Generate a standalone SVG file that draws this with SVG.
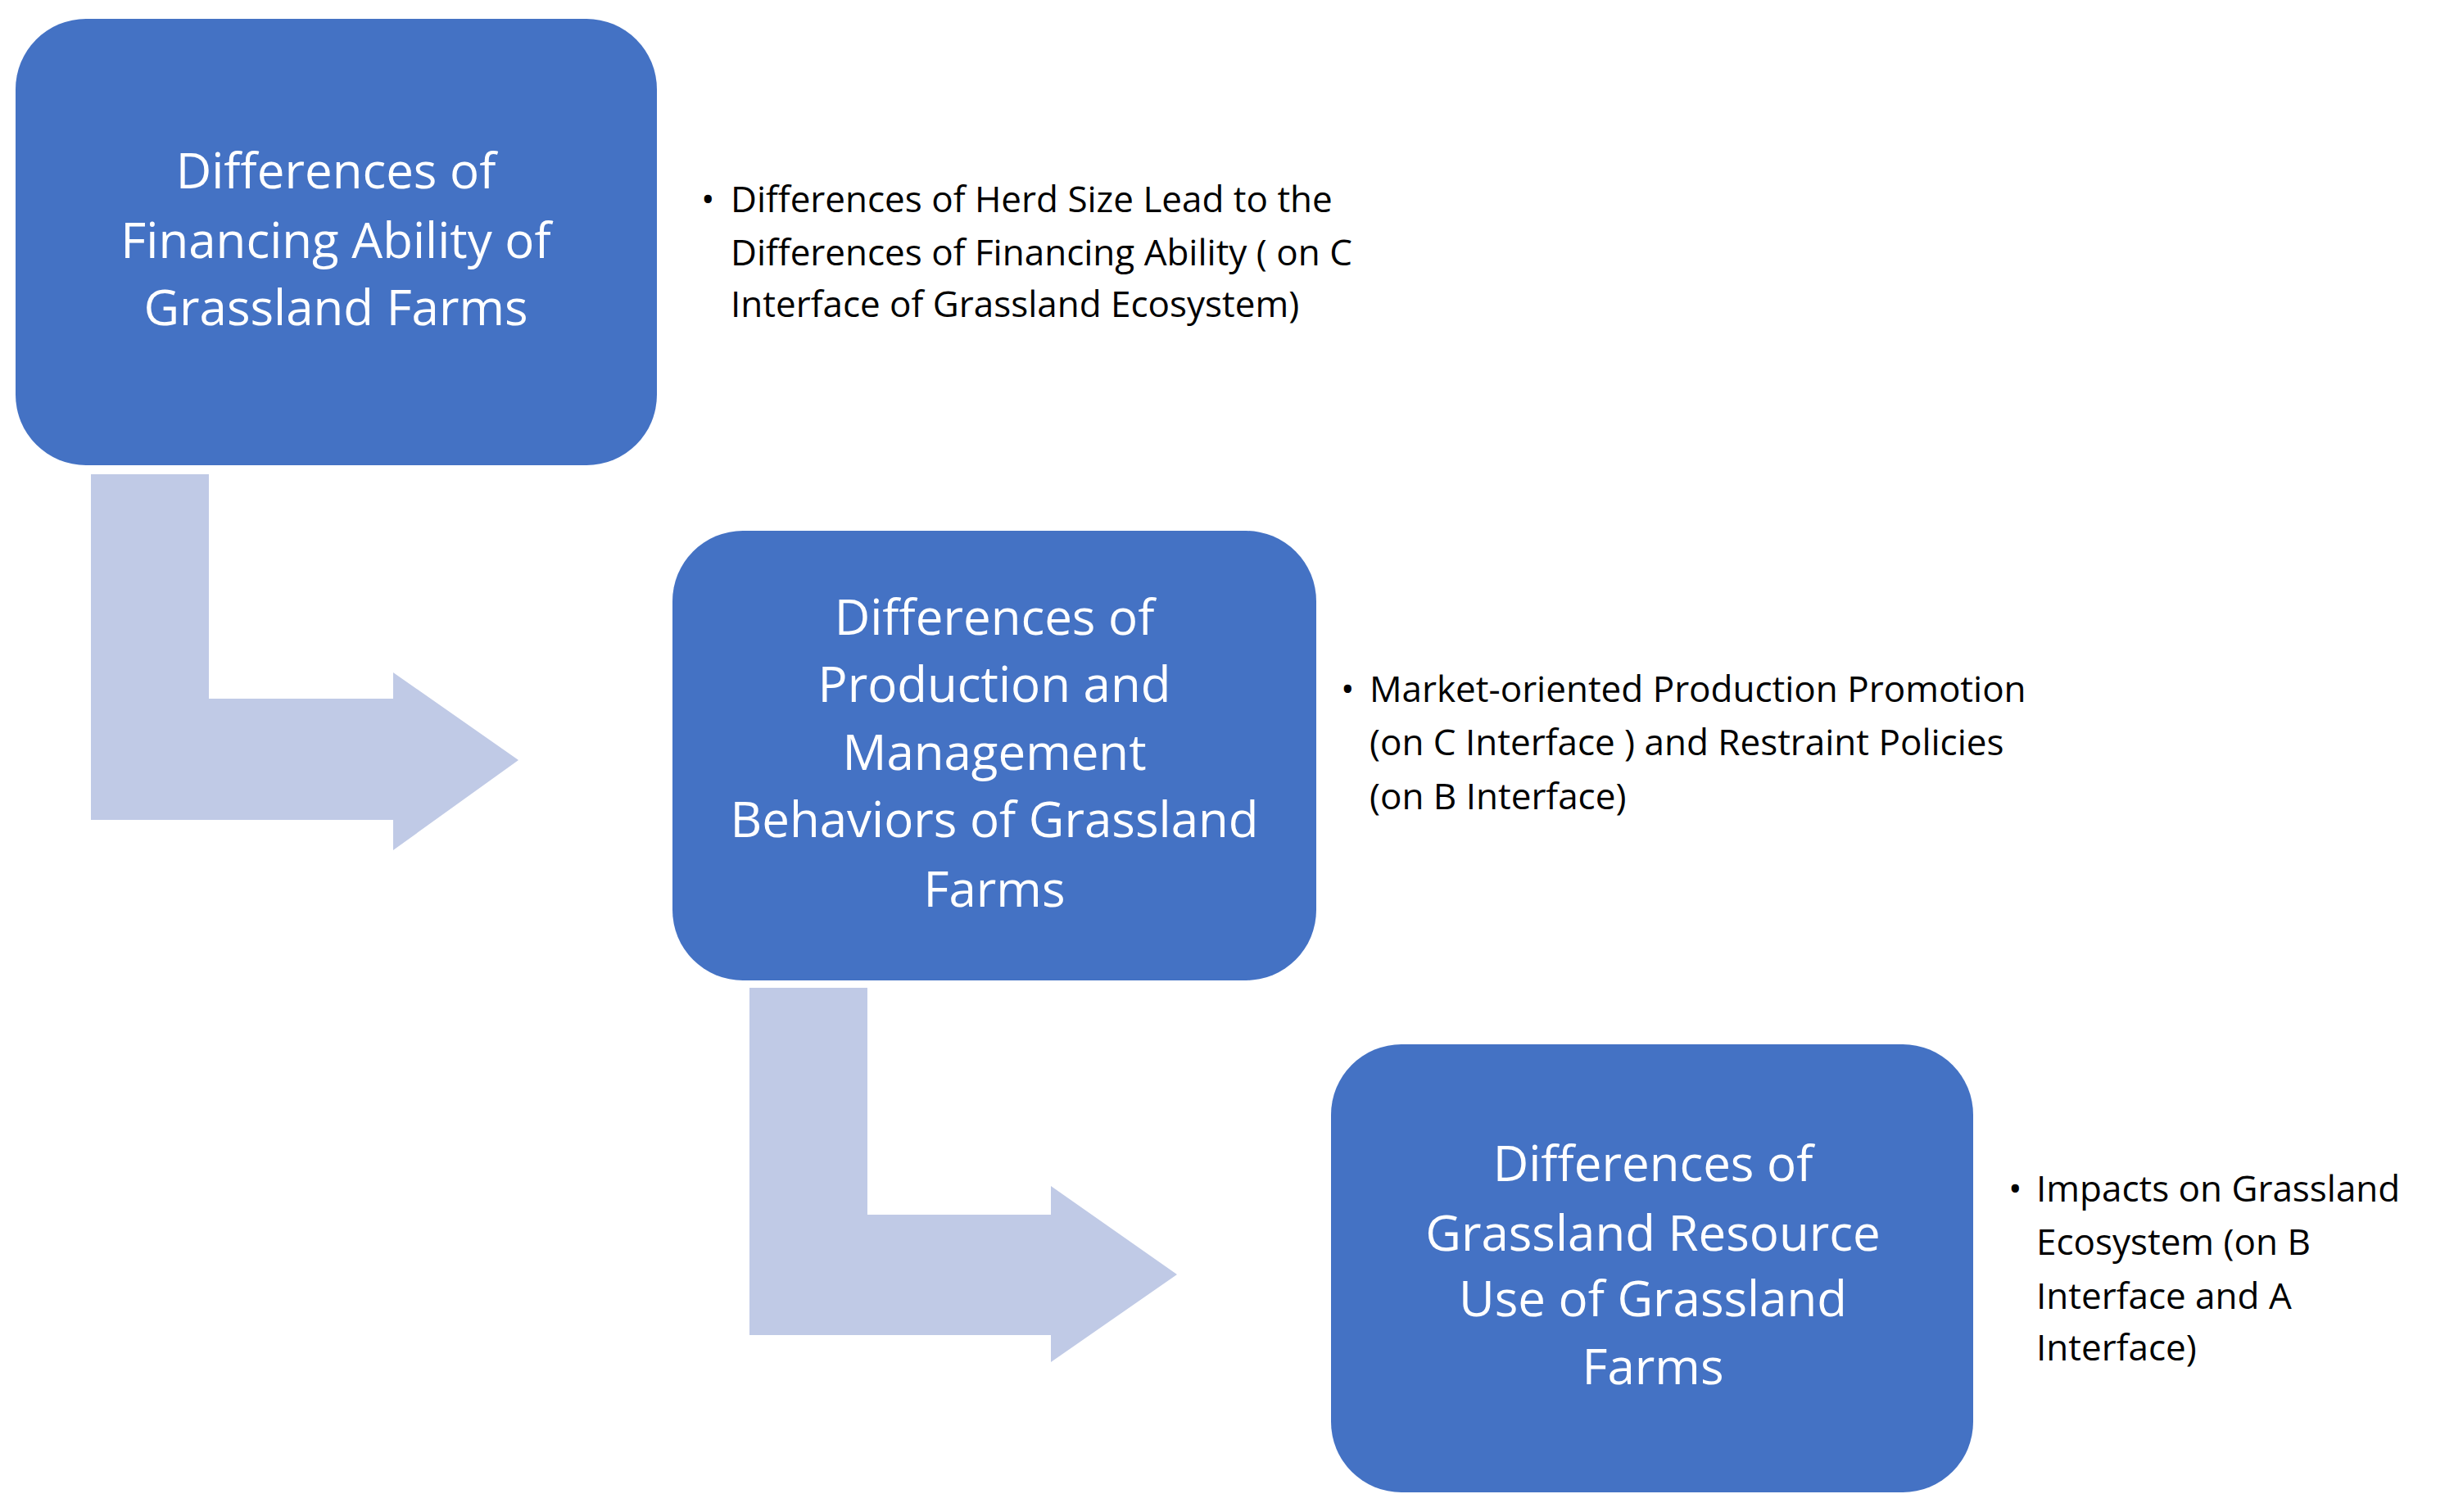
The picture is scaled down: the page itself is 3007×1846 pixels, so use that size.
<svg xmlns="http://www.w3.org/2000/svg" width="3007" height="1846" viewBox="0 0 3007 1846">
<style>
.box{fill:#4472C4;}
.arr{fill:#C0CAE6;}
.bt{font-family:"Open Sans","Liberation Sans",sans-serif;font-size:60px;fill:#fff;text-anchor:middle;}
.nt{font-family:"Open Sans","Liberation Sans",sans-serif;font-size:44px;fill:#000;}
</style>
<rect width="3007" height="1846" fill="#fff"/>
<g id="connectors">
<path class="arr" d="M111 579H255V853H480V821L633 928L480 1038V1001H111Z"/>
<path class="arr" d="M915 1206H1059V1483H1283V1448L1437 1556L1283 1663V1630H915Z"/>
</g>
<g id="node1">
<rect class="box" x="19" y="23" width="783" height="545" rx="86"/>
<text class="bt"><tspan x="410" y="230">Differences of</tspan><tspan x="410" y="315">Financing Ability of</tspan><tspan x="410" y="397">Grassland Farms</tspan></text>
</g>
<g id="node2">
<rect class="box" x="821" y="648" width="786" height="549" rx="86"/>
<text class="bt"><tspan x="1214" y="775">Differences of</tspan><tspan x="1214" y="857">Production and</tspan><tspan x="1214" y="940">Management</tspan><tspan x="1214" y="1022">Behaviors of Grassland</tspan><tspan x="1214" y="1107">Farms</tspan></text>
</g>
<g id="node3">
<rect class="box" x="1625" y="1275" width="784" height="547" rx="86"/>
<text class="bt"><tspan x="2018" y="1442">Differences of</tspan><tspan x="2018" y="1527">Grassland Resource</tspan><tspan x="2018" y="1607">Use of Grassland</tspan><tspan x="2018" y="1690">Farms</tspan></text>
</g>
<g id="note1">
<text class="nt"><tspan x="856" y="259">•</tspan><tspan x="892" y="259">Differences of Herd Size Lead to the</tspan><tspan x="892" y="324">Differences of Financing Ability ( on C</tspan><tspan x="892" y="387">Interface of Grassland Ecosystem)</tspan></text>
</g>
<g id="note2">
<text class="nt"><tspan x="1637" y="857">•</tspan><tspan x="1672" y="857">Market-oriented Production Promotion</tspan><tspan x="1672" y="922">(on C Interface ) and Restraint Policies</tspan><tspan x="1672" y="988">(on B Interface)</tspan></text>
</g>
<g id="note3">
<text class="nt"><tspan x="2452" y="1467">•</tspan><tspan x="2486" y="1467">Impacts on Grassland</tspan><tspan x="2486" y="1532">Ecosystem (on B</tspan><tspan x="2486" y="1598">Interface and A</tspan><tspan x="2486" y="1661">Interface)</tspan></text>
</g>
</svg>
